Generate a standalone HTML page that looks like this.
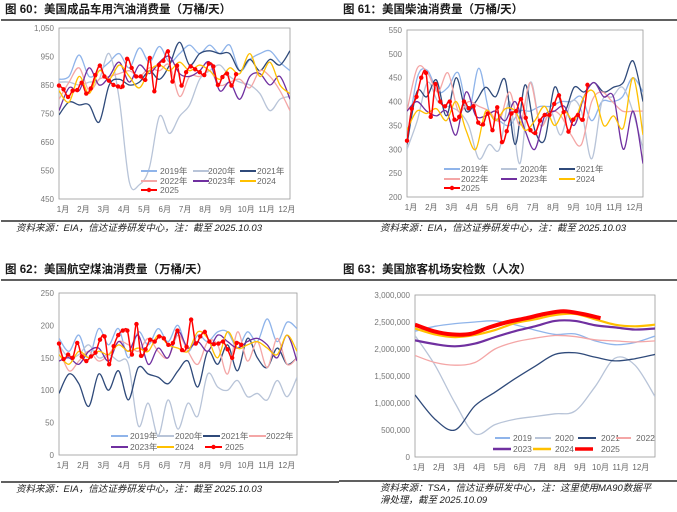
<!DOCTYPE html>
<html><head><meta charset="utf-8">
<style>
body{margin:0;width:677px;height:512px;background:#fff;overflow:hidden;font-family:"Liberation Sans","Noto Sans CJK SC",sans-serif}
svg{position:absolute;left:0;top:0}
.t{font-weight:bold;font-size:11.5px;fill:#1a1a1a}
.s{font-style:italic;font-size:9.5px;fill:#222}
.tk{font-size:8px;fill:#777}
.lg{font-size:8.5px;fill:#666}
</style></head><body>
<svg id="c" width="677" height="512"></svg>
<script>
// ---------- Chart 60: gasoline ----------
const gasTicks=[450,550,650,750,850,950,1050];
const gasTickLabels=["450","550","650","750","850","950","1,050"];
const gas2019=[870,880,955,880,900,930,960,910,980,930,985,930,960,990,960,990,960,990,900,940,960,970,930,900];
const gas2020=[860,860,850,860,870,960,800,510,500,560,740,680,740,780,870,900,920,880,860,850,820,760,800,810];
const gas2021=[745,790,780,780,720,850,870,850,860,900,870,920,1000,920,960,970,960,960,900,940,900,940,920,970];
const gas2022=[800,860,910,830,870,880,890,900,880,910,900,920,810,880,880,900,850,860,870,840,900,880,830,760];
const gas2023=[760,840,830,910,850,880,930,860,920,890,930,950,890,880,900,930,830,860,800,880,890,850,880,800];
const gas2024=[830,790,880,820,900,870,920,880,840,900,920,900,930,900,920,900,870,910,890,960,880,930,850,820];
const gas2025=[848,835,808,830,832,858,820,838,885,918,880,865,850,845,845,942,910,880,880,868,945,828,920,935,968,862,918,848,895,915,905,895,885,925,915,850,878,890,848,888];
// ---------- Chart 61: diesel ----------
const dslTicks=[200,250,300,350,400,450,500,550];
const dslTickLabels=["200","250","300","350","400","450","500","550"];
const dsl2019=[320,450,465,420,430,460,380,470,380,360,350,380,380,390,390,400,400,410,360,400,400,410,450,420];
const dsl2020=[300,360,440,400,390,380,350,280,310,300,400,270,440,350,380,330,400,380,280,400,410,430,380,300];
const dsl2021=[310,420,410,445,370,450,380,400,430,410,445,310,435,340,320,430,380,430,420,440,420,430,440,485,400];
const dsl2022=[380,470,460,420,460,380,400,390,380,360,420,350,440,350,380,370,330,310,400,420,400,380,380,380];
const dsl2023=[380,400,380,370,380,330,420,370,370,380,360,400,340,300,370,380,390,350,410,440,410,410,300,380,270];
const dsl2024=[340,380,375,385,360,400,340,300,380,360,385,380,340,360,390,350,380,360,410,420,350,370,345,450,330];
const dsl2025=[318,385,410,450,460,368,437,400,390,400,362,368,400,386,390,356,352,375,340,388,315,338,375,380,405,366,340,334,360,372,372,395,413,378,337,362,372,362,435];
// ---------- Chart 62: jet fuel ----------
const jetTicks=[0,50,100,150,200,250];
const jetTickLabels=["0","50","100","150","200","250"];
const jet2019=[180,160,185,150,195,170,195,150,190,170,195,175,200,160,185,175,190,190,165,190,175,210,175,205,195];
const jet2020=[170,150,155,170,150,155,145,140,45,80,30,85,40,80,60,125,105,100,115,90,95,85,115,90,120];
const jet2021=[95,125,110,75,125,100,130,85,135,125,120,110,130,145,105,160,140,170,130,180,150,135,165,140,150];
const jet2022=[165,130,145,160,145,155,175,170,160,180,160,150,185,160,140,175,170,125,190,145,175,135,180,140,150];
const jet2023=[145,150,140,160,165,145,175,160,185,140,165,150,190,165,175,160,185,175,165,175,180,170,150,185,145];
const jet2024=[155,140,160,150,160,155,170,160,165,160,185,170,165,160,190,180,150,190,165,170,175,165,155,185,160];
const jet2025=[172,148,155,150,173,152,145,152,158,178,183,140,168,185,192,192,155,202,153,163,178,175,183,180,170,173,192,162,167,209,172,183,190,175,171,172,175,163,150,173,170];
// ---------- Chart 63: TSA (millions) ----------
const tsaTicks=[0,0.5,1,1.5,2,2.5,3];
const tsaTickLabels=["0","500,000","1,000,000","1,500,000","2,000,000","2,500,000","3,000,000"];
const tsa2019=[2.33,2.42,2.47,2.50,2.52,2.45,2.35,2.27,2.28,2.15,2.08,2.12,2.24];
const tsa2020=[2.25,1.7,1.0,0.43,0.6,0.7,0.75,0.8,0.85,1.3,1.83,1.7,1.12];
const tsa2021=[1.15,0.7,0.5,0.95,1.2,1.45,1.68,1.9,1.93,1.85,1.78,1.82,1.9];
const tsa2022=[1.88,1.75,1.70,1.75,2.0,2.13,2.2,2.25,2.23,2.17,2.15,2.13,2.15];
const tsa2023=[2.16,2.09,2.05,2.1,2.22,2.33,2.42,2.52,2.52,2.44,2.4,2.36,2.38];
const tsa2024=[2.38,2.27,2.22,2.26,2.35,2.48,2.55,2.63,2.65,2.55,2.45,2.42,2.45];
const tsa2025=[2.45,2.33,2.27,2.28,2.40,2.50,2.57,2.65,2.70,2.65,2.57];
const months=["1月","2月","3月","4月","5月","6月","7月","8月","9月","10月","11月","12月"];

const C={y19:"#8fb4ea",y20:"#b8c4d8",y21:"#2f4a7a",y22:"#f4a6a6",y23:"#7030a0",y24:"#ffc000",y25:"#ff0000"};
const svg=document.getElementById('c');
const NS="http://www.w3.org/2000/svg";
function mk(tag,attrs,parent){const e=document.createElementNS(NS,tag);for(const k in attrs)e.setAttribute(k,attrs[k]);(parent||svg).appendChild(e);return e;}
function smooth(pts){let d="M"+pts[0][0]+","+pts[0][1];for(let i=0;i<pts.length-1;i++){const p0=pts[i-1]||pts[i],p1=pts[i],p2=pts[i+1],p3=pts[i+2]||p2;d+=" C"+(p1[0]+(p2[0]-p0[0])/6)+","+(p1[1]+(p2[1]-p0[1])/6)+" "+(p2[0]-(p3[0]-p1[0])/6)+","+(p2[1]-(p3[1]-p1[1])/6)+" "+p2[0]+","+p2[1];}return d;}

function chart(cfg){
  const g=mk('g',{});
  
  
  const {x0,x1,y0,y1,ymin,ymax,span}=cfg;
  const sx=m=>x0+(x1-x0)*m/span, sy=v=>y1-(y1-y0)*(v-ymin)/(ymax-ymin);
  const tt=mk('text',{x:cfg.tx,y:cfg.ty,class:'t'},g);tt.textContent=cfg.title;
  
  mk('line',{x1:cfg.tx-4,x2:cfg.tx+334,y1:cfg.ty+7,y2:cfg.ty+7,stroke:'#000','stroke-width':1.3},g);
  mk('line',{x1:cfg.tx-4,x2:cfg.tx+334,y1:cfg.by,y2:cfg.by,stroke:'#000','stroke-width':1.3},g);
  cfg.src.forEach((s,i)=>{const st=mk('text',{x:cfg.sx,y:cfg.by+10+i*12,class:'s'},g);st.textContent=s;});
  mk('rect',{x:x0,y:y0,width:x1-x0,height:y1-y0,fill:'none',stroke:'#999','stroke-width':0.8},g);
  cfg.ticks.forEach((v,i)=>{const t=mk('text',{x:x0-5,y:sy(v)+3,'text-anchor':'end',class:'tk'},g);t.textContent=cfg.tickLabels[i];});
  months.forEach((m,i)=>{const t=mk('text',{x:sx(i)+4,y:y1+13,'text-anchor':'middle',class:'tk',style:'fill:#666'},g);t.textContent=m;});
  const clip='cl'+cfg.name;const cp=mk('clipPath',{id:clip},g);mk('rect',{x:x0,y:y0-3,width:x1-x0,height:y1-y0+3},cp);
  cfg.series.forEach(s=>{
    const step=s.end/(s.data.length-1);
    const pts=s.data.map((v,i)=>[+(sx(i*step)).toFixed(2),+(sy(v)).toFixed(2)]);
    const p=mk('path',{d:smooth(pts),fill:'none',stroke:s.c,'stroke-width':s.w||1.3,'clip-path':'url(#'+clip+')'},g);
    
    
    if(s.mark)pts.forEach(q=>{const c=mk('circle',{cx:q[0],cy:q[1],r:2.2,fill:s.c},g);});
  });
  cfg.legend.forEach(l=>{
    const s=cfg.series.find(z=>z.k===l.k);
    mk('line',{x1:l.x,x2:l.x+l.lw,y1:l.y-3,y2:l.y-3,stroke:s.c,'stroke-width':s.lw||2},g);
    if(s.mark)mk('circle',{cx:l.x+l.lw/2,cy:l.y-3,r:2.2,fill:s.c},g);
    const t=mk('text',{x:l.tx,y:l.y,class:'lg'},g);t.textContent=l.label;
    
  });
}
function L(k,x,lw,tx,y,label){return {k,x,lw,tx,y,label};}

chart({name:'gasoline-chart',title:'图 60：美国成品车用汽油消费量（万桶/天）',tx:5,ty:13,by:221,sx:16,src:['资料来源：EIA，信达证券研发中心，注：截至 2025.10.03'],
 x0:59,x1:290,y0:28,y1:199,ymin:450,ymax:1050,span:11.35,ticks:gasTicks,tickLabels:gasTickLabels,
 series:[{k:'2019',c:C.y19,data:gas2019,end:11.35},{k:'2020',c:C.y20,data:gas2020,end:11.35},{k:'2021',c:C.y21,data:gas2021,end:11.35},{k:'2022',c:C.y22,data:gas2022,end:11.35},{k:'2023',c:C.y23,data:gas2023,end:11.35},{k:'2024',c:C.y24,data:gas2024,end:11.35},{k:'2025',c:C.y25,data:gas2025,end:8.7,mark:true,w:1.5}],
 legend:[L('2019',141,16,160,174,'2019年'),L('2020',193,16,208,174,'2020年'),L('2021',240,16,257,174,'2021年'),L('2022',141,16,160,184,'2022年'),L('2023',193,16,208,184,'2023年'),L('2024',240,16,257,184,'2024'),L('2025',141,16,160,193,'2025')]});

chart({name:'diesel-chart',title:'图 61：美国柴油消费量（万桶/天）',tx:343,ty:13,by:221,sx:380,src:['资料来源：EIA，信达证券研发中心，注：截至 2025.10.03'],
 x0:407,x1:643,y0:30,y1:197,ymin:200,ymax:550,span:11.6,ticks:dslTicks,tickLabels:dslTickLabels,
 series:[{k:'2019',c:C.y19,data:dsl2019,end:11.6},{k:'2020',c:C.y20,data:dsl2020,end:11.6},{k:'2021',c:C.y21,data:dsl2021,end:11.6},{k:'2022',c:C.y22,data:dsl2022,end:11.6},{k:'2023',c:C.y23,data:dsl2023,end:11.6},{k:'2024',c:C.y24,data:dsl2024,end:11.6},{k:'2025',c:C.y25,data:dsl2025,end:8.87,mark:true,w:1.5}],
 legend:[L('2019',444,16,461,172,'2019年'),L('2020',501,16,520,172,'2020年'),L('2021',559,16,576,172,'2021年'),L('2022',444,16,461,182,'2022年'),L('2023',501,16,520,182,'2023年'),L('2024',559,16,576,182,'2024'),L('2025',444,16,461,191,'2025')]});

chart({name:'jet-fuel-chart',title:'图 62：美国航空煤油消费量（万桶/天）',tx:5,ty:273,by:482,sx:16,src:['资料来源：EIA，信达证券研发中心，注：截至 2025.10.03'],
 x0:59,x1:297,y0:293,y1:455,ymin:0,ymax:250,span:11.7,ticks:jetTicks,tickLabels:jetTickLabels,
 series:[{k:'2019',c:C.y19,data:jet2019,end:11.7},{k:'2020',c:C.y20,data:jet2020,end:11.7},{k:'2021',c:C.y21,data:jet2021,end:11.7},{k:'2022',c:C.y22,data:jet2022,end:11.7},{k:'2023',c:C.y23,data:jet2023,end:11.7},{k:'2024',c:C.y24,data:jet2024,end:11.7},{k:'2025',c:C.y25,data:jet2025,end:8.96,mark:true,w:1.5}],
 legend:[L('2019',111,17,130,439,'2019年'),L('2020',157,17,175,439,'2020年'),L('2021',203,17,221,439,'2021年'),L('2022',249,17,266,439,'2022年'),L('2023',111,17,130,450,'2023年'),L('2024',157,17,175,450,'2024'),L('2025',205,17,225,450,'2025')]});

chart({name:'tsa-chart',title:'图 63：美国旅客机场安检数（人次）',tx:343,ty:273,by:481,sx:380,src:['资料来源：TSA，信达证券研发中心，注：这里使用MA90数据平','滑处理，截至 2025.10.09'],
 x0:415,x1:655,y0:295,y1:457,ymin:0,ymax:3,span:11.9,ticks:tsaTicks,tickLabels:tsaTickLabels,
 series:[{k:'2019',c:C.y19,data:tsa2019,end:11.9},{k:'2020',c:C.y20,data:tsa2020,end:11.9},{k:'2021',c:C.y21,data:tsa2021,end:11.9},{k:'2022',c:C.y22,data:tsa2022,end:11.9},{k:'2023',c:C.y23,data:tsa2023,end:11.9,w:2.2,lw:2.5},{k:'2024',c:C.y24,data:tsa2024,end:11.9,w:2.2,lw:2.5},{k:'2025',c:C.y25,data:tsa2025,end:9.2,w:4,lw:3.5}],
 legend:[L('2019',495,15,513,441,'2019'),L('2020',535,16,555,441,'2020'),L('2021',578,18,601,441,'2021'),L('2022',616,15,636,441,'2022'),L('2023',493,18,513,452,'2023'),L('2024',533,18,555,452,'2024'),L('2025',575,18,601,452,'2025')]});
</script>
</body></html>
